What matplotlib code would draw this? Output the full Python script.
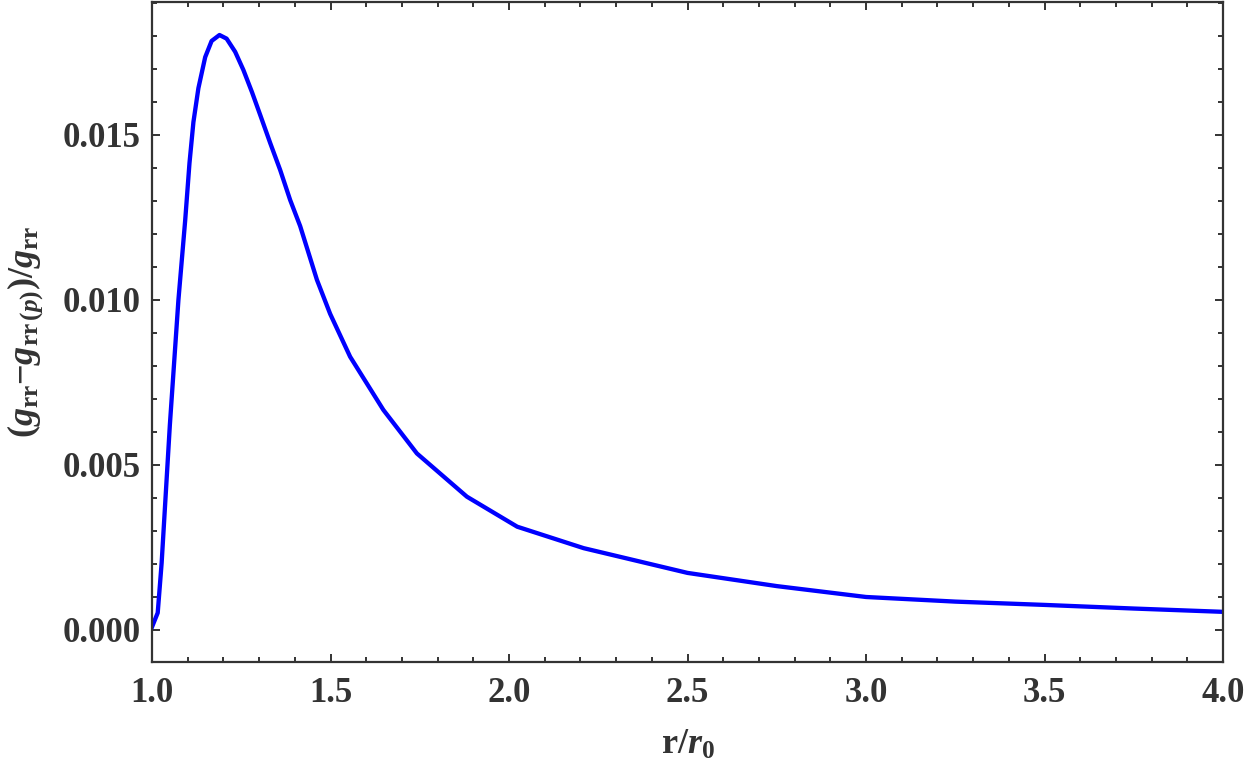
import matplotlib
matplotlib.use('Agg')
import matplotlib.pyplot as plt
from matplotlib.ticker import MultipleLocator, FormatStrFormatter

# values
r = [1.000, 1.016, 1.027, 1.050, 1.074, 1.093, 1.105, 1.116, 1.130, 1.149,
     1.167, 1.189, 1.209, 1.233, 1.256, 1.280, 1.303, 1.331, 1.359, 1.387,
     1.415, 1.462, 1.499, 1.555, 1.648, 1.742, 1.882, 2.023, 2.209, 2.500,
     2.750, 3.000, 3.250, 3.500, 3.750, 4.000]
dg = [0.00009, 0.00052, 0.00203, 0.00621, 0.01000, 0.01242, 0.01415, 0.01539,
      0.01642, 0.01736, 0.01785, 0.01803, 0.01792, 0.01752, 0.01697, 0.01630,
      0.01561, 0.01476, 0.01394, 0.01303, 0.01224, 0.01061, 0.00958, 0.00828,
      0.00667, 0.00535, 0.00404, 0.00313, 0.00248, 0.00173, 0.00133, 0.00100,
      0.00086, 0.00076, 0.00065, 0.00055]

xlim = (1.0, 4.0)
ylim = (-0.00097, 0.01903)

plt.rcParams['font.family'] = ['Liberation Serif', 'DejaVu Serif']
plt.rcParams['font.weight'] = 'bold'
plt.rcParams['mathtext.fontset'] = 'custom'
plt.rcParams['mathtext.rm'] = 'Liberation Serif:bold'
plt.rcParams['mathtext.it'] = 'Liberation Serif:italic:bold'
plt.rcParams['mathtext.bf'] = 'Liberation Serif:bold'

grey = '#333333'

fig = plt.figure(figsize=(12.5, 7.73), dpi=100)
ax = fig.add_axes([0.1216, 0.1436, 0.8568, 0.8538])

ax.plot(r, dg, color='#0000ff', lw=3.1, solid_joinstyle='round')

ax.set_xlim(xlim)
ax.set_ylim(ylim)

ax.xaxis.set_major_locator(MultipleLocator(0.5))
ax.xaxis.set_minor_locator(MultipleLocator(0.1))
ax.yaxis.set_major_locator(MultipleLocator(0.005))
ax.yaxis.set_minor_locator(MultipleLocator(0.001))
ax.xaxis.set_major_formatter(FormatStrFormatter('%.1f'))
ax.yaxis.set_major_formatter(FormatStrFormatter('%.3f'))

for s in ax.spines.values():
    s.set_color(grey)
    s.set_linewidth(1.6)

ax.tick_params(which='both', direction='in', top=True, right=True,
               color=grey, labelcolor=grey, labelsize=25, width=1.4)
ax.tick_params(which='major', length=6)
ax.tick_params(which='minor', length=3.6)
ax.tick_params(axis='y', pad=8)
ax.tick_params(axis='x', pad=11)
for lab in ax.get_xticklabels() + ax.get_yticklabels():
    lab.set_fontweight('bold')

ax.set_xlabel(r'$\mathrm{r}/r_0$', fontsize=26, color=grey, labelpad=13)
ax.set_ylabel(r'$(g_{\mathrm{rr}}{-}g_{\mathrm{rr}\,(p)})/g_{\mathrm{rr}}$',
              fontsize=26, color=grey, labelpad=12)

plt.savefig('out.png', dpi=100)
